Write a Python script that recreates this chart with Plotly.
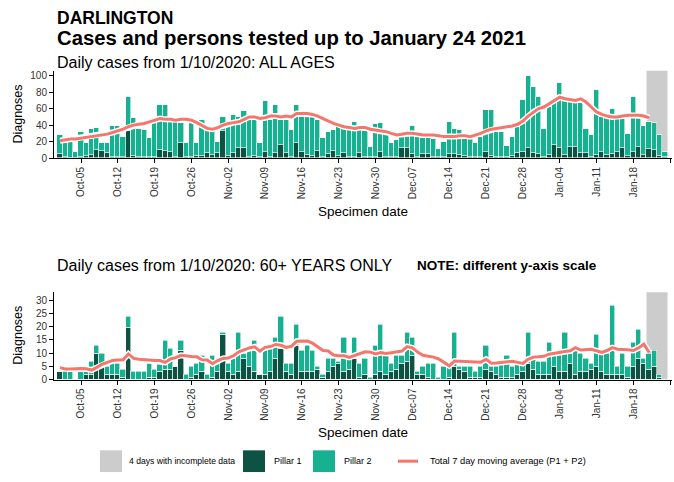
import pandas as pd
import plotly.graph_objects as go

# daily specimen dates (1 Oct 2020 - 24 Jan 2021)
dates = pd.date_range("2020-10-01", "2021-01-24", freq="D")

# ALL AGES - pillar 1 / pillar 2 daily diagnoses
all_p1 = [5, 1, 0, 0, 2, 3, 4, 10, 9, 6,
          2, 1, 2, 33, 3, 2, 2, 1, 2, 10,
          9, 7, 2, 19, 2, 2, 3, 3, 6, 4,
          6, 33, 3, 6, 12, 12, 2, 3, 1, 8,
          2, 6, 16, 6, 2, 18, 8, 4, 3, 9,
          2, 5, 9, 3, 6, 2, 2, 6, 2, 1,
          2, 8, 2, 2, 2, 12, 13, 5, 2, 5,
          5, 2, 1, 2, 5, 5, 4, 3, 2, 1,
          2, 8, 3, 2, 1, 1, 3, 6, 8, 12,
          6, 5, 2, 4, 16, 12, 4, 14, 14, 6,
          6, 2, 4, 8, 4, 5, 8, 12, 3, 8,
          14, 4, 11, 10, 3, 1]
all_p2 = [23, 17, 20, 8, 30, 16, 32, 27, 10, 12,
          37, 38, 24, 42, 46, 34, 32, 24, 47, 55,
          56, 38, 42, 24, 17, 41, 16, 43, 31, 32,
          14, 17, 41, 47, 38, 45, 48, 43, 18, 62,
          44, 59, 31, 41, 32, 47, 42, 48, 47, 37,
          22, 27, 25, 35, 30, 32, 42, 28, 31, 13,
          40, 35, 28, 16, 20, 15, 15, 34, 24, 19,
          21, 21, 10, 18, 39, 31, 30, 21, 22, 17,
          24, 51, 55, 30, 31, 14, 23, 37, 63, 88,
          80, 69, 34, 58, 56, 80, 66, 54, 53, 64,
          29, 26, 79, 42, 46, 55, 40, 36, 27, 66,
          41, 35, 33, 33, 25, 6]
# total 7 day moving average (to 21 Jan)
all_ma = [21, 22, 23, 23, 24, 25, 26, 27, 28, 29,
          31, 33, 35, 38, 40, 41, 42, 44, 46, 48,
          47, 47, 46, 47, 47, 46, 43, 39, 36, 35,
          37, 40, 42, 43, 44, 47, 50, 50, 48, 49,
          51, 51, 50, 51, 50, 54, 54, 54, 53, 51,
          48, 45, 42, 40, 38, 37, 36, 37, 37, 35,
          34, 33, 32, 30, 28, 29, 30, 30, 29, 28,
          28, 28, 27, 26, 26, 26, 27, 27, 26, 28,
          30, 33, 35, 36, 37, 38, 39, 41, 45, 51,
          56, 60, 62, 66, 70, 74, 72, 71, 70, 72,
          68, 62, 56, 53, 51, 50, 50, 51, 52, 52,
          52, 51, 49]

# 60+ YEARS - pillar 1 / pillar 2 daily diagnoses
old_p1 = [3, 0, 0, 0, 0, 2, 2, 10, 5, 2,
          2, 2, 1, 20, 0, 0, 0, 1, 1, 3,
          4, 4, 5, 11, 0, 1, 2, 3, 0, 1,
          3, 17, 3, 2, 3, 8, 5, 3, 2, 2,
          3, 8, 12, 3, 2, 13, 3, 3, 3, 4,
          1, 3, 5, 6, 3, 4, 8, 1, 2, 0,
          2, 3, 2, 3, 4, 6, 7, 9, 2, 2,
          1, 0, 0, 0, 1, 5, 4, 3, 1, 1,
          1, 4, 3, 2, 1, 1, 1, 2, 3, 6,
          4, 2, 2, 2, 5, 3, 3, 6, 2, 3,
          3, 4, 5, 3, 2, 2, 2, 2, 1, 5,
          8, 6, 4, 5, 1, 0]
old_p2 = [0, 3, 3, 0, 3, 1, 5, 3, 5, 3,
          4, 4, 3, 4, 3, 3, 3, 5, 3, 3,
          11, 8, 0, 4, 2, 4, 4, 6, 2, 8,
          3, 1, 3, 6, 15, 2, 6, 12, 0, 9,
          10, 8, 12, 3, 4, 8, 8, 10, 8, 1,
          1, 5, 3, 1, 13, 4, 8, 5, 6, 1,
          11, 18, 7, 3, 5, 3, 11, 7, 1, 3,
          5, 6, 1, 5, 4, 13, 1, 2, 4, 2,
          4, 9, 2, 3, 5, 8, 4, 4, 3, 12,
          4, 5, 5, 12, 5, 7, 15, 4, 11, 7,
          5, 2, 12, 7, 8, 26, 3, 8, 4, 9,
          11, 2, 6, 6, 1, 0]
old_ma = [4.5, 4, 4, 4.2, 4.2, 4.1, 3.6, 4.6, 5.8, 6.5,
          7.2, 7.4, 7.5, 9.7, 8, 7.7, 7.5, 7.3, 7.2, 7.2,
          6.5, 7.8, 8.3, 9.2, 8.9, 8.7, 8.6, 7.5, 7.4, 6.0,
          7.2, 8, 8.2, 9, 10.5, 11.3, 12, 12.4, 10.8, 12.2,
          12.5, 13.3, 13.0, 12.2, 12.6, 14.5, 14.6, 14.6, 13.8, 12.4,
          11.0, 10.8, 9.3, 9.0, 9.0, 8.4, 9.2, 10.0, 10.5, 10.4,
          9.7, 10.2, 9.9, 10.2, 10.6, 10.8, 12.5, 12.0, 10.4, 9.2,
          8.8, 8.5, 7.8, 6.5, 5.2, 7.0, 6.9, 6.9, 6.9, 6.7,
          6.6, 7.7, 6.2, 6.3, 6.5, 6.7, 6.9, 6.5, 6.1, 7.7,
          8.5, 8.6, 8.8, 9.6, 10.0, 10.3, 10.6, 10.9, 12.1, 11.2,
          11.3, 11.5, 10.9, 10.3, 11.0, 12.1, 11.5, 11.5, 11.3, 11.0,
          12.0, 13.4, 10.3]

tick_dates = ["2020-10-05", "2020-10-12", "2020-10-19", "2020-10-26", "2020-11-02",
              "2020-11-09", "2020-11-16", "2020-11-23", "2020-11-30", "2020-12-07",
              "2020-12-14", "2020-12-21", "2020-12-28", "2021-01-04", "2021-01-11",
              "2021-01-18", "2021-01-25"]
tick_text = ["Oct-05", "Oct-12", "Oct-19", "Oct-26", "Nov-02", "Nov-09", "Nov-16",
             "Nov-23", "Nov-30", "Dec-07", "Dec-14", "Dec-21", "Dec-28", "Jan-04",
             "Jan-11", "Jan-18", "Jan-25"]

P1_COL = "#0d5343"
P2_COL = "#16b190"
MA_COL = "#f5766d"
GREY = "#cccccc"
FONT = "Liberation Sans, Arial, sans-serif"

W, H = 674, 482
ML, MR = 54, 2

#pixel -> paper coordinates helpers
def px(x):
    return (x - ML) / (W - ML - MR)

def py(y):
    return 1 - y / H

fig = go.Figure()

panels = [("x", "y", all_p1, all_p2, all_ma), ("x2", "y2", old_p1, old_p2, old_ma)]
for xa, ya, p1, p2, ma in panels:
    fig.add_trace(go.Bar(x=dates, y=p1, marker=dict(color=P1_COL, line=dict(color="white", width=0.6)),
                         xaxis=xa, yaxis=ya, showlegend=False, hoverinfo="x+y"))
    fig.add_trace(go.Bar(x=dates, y=p2, marker=dict(color=P2_COL, line=dict(color="white", width=0.6)),
                         xaxis=xa, yaxis=ya, showlegend=False, hoverinfo="x+y"))
    #white halo under the moving average line
    fig.add_trace(go.Scatter(x=dates[:len(ma)], y=ma, mode="lines", line=dict(color="white", width=6),
                             xaxis=xa, yaxis=ya, showlegend=False, hoverinfo="skip"))
    fig.add_trace(go.Scatter(x=dates[:len(ma)], y=ma, mode="lines", line=dict(color=MA_COL, width=3),
                             xaxis=xa, yaxis=ya, showlegend=False))

xrange = ["2020-09-29 20:40", "2021-01-25 08:24"]
xcommon = dict(range=xrange, tickvals=tick_dates, ticktext=tick_text, tickangle=-90,
               showline=True, linecolor="black", linewidth=1, ticks="outside", ticklen=4,
               tickcolor="black", showgrid=False, zeroline=False,
               tickfont=dict(family=FONT, size=10, color="#333333"))
ycommon = dict(showline=True, linecolor="black", linewidth=1, ticks="outside", ticklen=4,
               tickcolor="black", showgrid=False, zeroline=False,
               tickfont=dict(family=FONT, size=10, color="#333333"))

fig.update_layout(
    width=W, height=H,
    margin=dict(l=ML, r=MR, t=0, b=0),
    plot_bgcolor="white", paper_bgcolor="white",
    barmode="stack", bargap=0,
    font=dict(family=FONT, color="black"),
    xaxis=dict(anchor="y", **xcommon),
    xaxis2=dict(anchor="y2", **xcommon),
    yaxis=dict(domain=[py(160), py(71.7)], range=[0, 106], tickvals=[0, 20, 40, 60, 80, 100], **ycommon),
    yaxis2=dict(domain=[py(384.3), py(296)], range=[0, 33.1], tickvals=[0, 5, 10, 15, 20, 25, 30], **ycommon),
)

#incomplete data shading
for xa, ya in [("x", "y"), ("x2", "y2")]:
    fig.add_shape(type="rect", xref=xa, yref=ya + " domain", x0="2021-01-20 12:00", x1="2021-01-24 12:00",
                  y0=0, y1=1, fillcolor=GREY, line=dict(width=0), layer="below")

texts = [
    ("DARLINGTON", 55, 18, 17.5, True),
    ("Cases and persons tested up to January 24 2021", 55, 38, 20.3, True),
    ("Daily cases from 1/10/2020: ALL AGES", 55, 63, 16, False),
    ("Daily cases from 1/10/2020: 60+ YEARS ONLY", 55, 269, 16, False),
    ("NOTE: different y-axis scale", 415, 269, 13.5, True),
]
for t, x, y, s, b in texts:
    fig.add_annotation(text="<b>%s</b>" % t if b else t, xref="paper", yref="paper", x=px(x), y=py(y),
                       xanchor="left", yanchor="middle", showarrow=False,
                       font=dict(family=FONT, size=s, color="black"))

#axis titles
for y in [116, 340]:
    fig.add_annotation(text="Diagnoses", xref="paper", yref="paper", x=px(18), y=py(y), textangle=-90,
                       xanchor="center", yanchor="middle", showarrow=False,
                       font=dict(family=FONT, size=12.5, color="black"))
for y in [214, 438]:
    fig.add_annotation(text="Specimen date", xref="paper", yref="paper", x=px(363), y=py(y),
                       xanchor="center", yanchor="middle", showarrow=False,
                       font=dict(family=FONT, size=13.5, color="black"))

#legend drawn by hand
leg_y = 467
for x0, col in [(100, GREY), (243, P1_COL), (313, P2_COL)]:
    fig.add_shape(type="rect", xref="paper", yref="paper", x0=px(x0), x1=px(x0 + 22),
                  y0=py(leg_y + 11), y1=py(leg_y - 11), fillcolor=col, line=dict(width=0))
fig.add_shape(type="line", xref="paper", yref="paper", x0=px(398), x1=px(418), y0=py(leg_y), y1=py(leg_y),
              line=dict(color=MA_COL, width=3))
for t, x, s in [("4 days with incomplete data", 127, 8.6), ("Pillar 1", 272, 9), ("Pillar 2", 342, 9),
                ("Total 7 day moving average (P1 + P2)", 428, 9.3)]:
    fig.add_annotation(text=t, xref="paper", yref="paper", x=px(x), y=py(leg_y), xanchor="left",
                       yanchor="middle", showarrow=False, font=dict(family=FONT, size=s, color="black"))

#drop the default page margin so the chart sits at the window corner
fig.write_html("out.html", config={"displayModeBar": False},
               post_script="document.body.style.margin='0';document.body.style.overflow='hidden';")
